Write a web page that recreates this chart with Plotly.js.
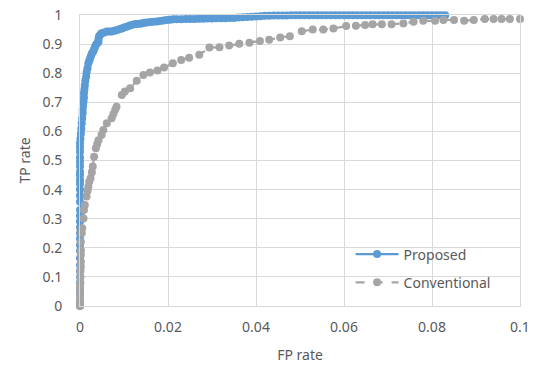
<!DOCTYPE html>
<html>
<head>
<meta charset="utf-8">
<script src="https://cdn.plot.ly/plotly-3.0.1.min.js"></script>
<style>html,body{margin:0;padding:0;background:#fff;}#chart{width:542px;height:369px;}</style>
</head>
<body>
<div id="chart"></div>
<script>
// Proposed (blue) ROC points
const proposedFP = [0,0,0,0,0,0,0,0,0,0,0,0,0,0,0,0,0,0,0,0,0,0,0,0,0,0,0,0,0,0,
  0.0001,0.0002,0.0003,0.0004,0.0005,0.0006,0.0006,0.0007,0.0008,0.0009,0.0009,0.001,0.0011,0.0012,0.0014,0.0015,0.0017,0.0019,0.0021,0.0023,
  0.0025,0.0027,0.003,0.0032,0.0034,0.0036,0.0039,0.0042,0.0042,0.0043,0.0046,0.0049,0.0055,0.0061,0.0066,0.0072,0.0078,0.0083,0.0089,0.0095,
  0.01,0.0106,0.0112,0.0117,0.0123,0.0129,0.0135,0.014,0.0146,0.0152,0.016,0.0167,0.0175,0.0182,0.019,0.0197,0.0205,0.0212,
  0.022,0.023,0.024,0.025,0.026,0.027,0.028,0.029,0.030,0.031,0.032,0.033,0.034,0.035,0.036,0.037,0.038,0.039,0.040,0.041,
  0.042,0.043,0.044,0.045,0.046,0.047,0.048,0.049,0.050,0.051,0.052,0.053,0.054,0.055,0.056,0.057,0.058,0.059,0.060,0.061,
  0.062,0.063,0.064,0.065,0.066,0.067,0.068,0.069,0.070,0.071,0.072,0.073,0.074,0.075,0.076,0.077,0.078,0.079,0.080,0.081,0.082,0.083];
const proposedTP = [0,0.02,0.04,0.06,0.08,0.1,0.12,0.14,0.165,0.19,0.21,0.23,0.25,0.27,0.29,0.31,0.33,0.358,0.38,0.4,0.42,0.433,0.45,0.461,0.48,0.496,0.51,0.53,0.545,0.559,
  0.575,0.593,0.61,0.628,0.645,0.662,0.674,0.688,0.702,0.716,0.731,0.745,0.759,0.774,0.788,0.803,0.817,0.834,0.843,0.851,
  0.86,0.868,0.875,0.882,0.89,0.897,0.903,0.908,0.918,0.926,0.932,0.937,0.94,0.943,0.943,0.943,0.946,0.948,0.951,0.954,
  0.957,0.96,0.963,0.966,0.968,0.969,0.97,0.971,0.973,0.974,0.976,0.977,0.978,0.979,0.981,0.983,0.984,0.985,
  0.985,0.985,0.986,0.986,0.986,0.987,0.987,0.988,0.988,0.989,0.989,0.989,0.99,0.99,0.991,0.992,0.993,0.994,0.995,0.996,
  0.997,0.997,0.998,0.998,0.998,0.998,0.999,0.999,0.999,0.999,0.999,0.999,0.999,0.999,0.999,0.999,0.999,0.999,0.999,0.999,
  0.999,0.999,0.999,0.999,0.999,0.999,0.999,0.999,0.999,0.999,0.999,0.999,0.999,0.999,0.999,0.999,0.999,0.999,0.999,0.999,0.999,0.999];

// Conventional (gray) ROC points
const conventionalFP = [0,0,0,0,0,0,0.0001,0.0001,0.0001,0.0002,0.0002,0.0002,0.0002,0.0002,0.0004,0.0005,0.0008,0.0009,0.0011,0.0015,
  0.0017,0.0019,0.0021,0.0024,0.0027,0.0029,0.0032,0.0036,0.0039,0.0042,0.0049,0.0053,0.0061,0.0072,0.0076,0.008,0.0083,0.0095,0.0102,0.0114,
  0.0129,0.0144,0.0159,0.0176,0.0191,0.0211,0.023,0.0248,0.0271,0.0294,0.0317,0.0339,0.0362,0.0385,0.0409,0.043,0.0455,0.0477,0.0504,0.0529,
  0.0553,0.0576,0.0605,0.0627,0.0648,0.0665,0.0686,0.0708,0.0735,0.0758,0.078,0.0807,0.0826,0.085,0.0873,0.0895,0.092,0.094,0.0958,0.0977,0.1];
const conventionalTP = [0,0.01,0.02,0.035,0.05,0.065,0.08,0.1,0.12,0.135,0.152,0.175,0.192,0.221,0.25,0.267,0.301,0.33,0.347,0.376,
  0.395,0.41,0.427,0.439,0.46,0.479,0.513,0.542,0.557,0.57,0.588,0.605,0.628,0.645,0.66,0.674,0.685,0.725,0.737,0.748,
  0.774,0.794,0.802,0.809,0.82,0.834,0.845,0.853,0.863,0.888,0.889,0.895,0.901,0.905,0.911,0.915,0.923,0.927,0.944,0.95,
  0.95,0.954,0.962,0.963,0.966,0.968,0.968,0.968,0.971,0.977,0.98,0.98,0.983,0.983,0.98,0.983,0.986,0.986,0.986,0.986,0.986];

const xTickVals = [0,0.02,0.04,0.06,0.08,0.1];
const xTickText = ['0','0.02','0.04','0.06','0.08','0.1'];
const yTickVals = [0,0.1,0.2,0.3,0.4,0.5,0.6,0.7,0.8,0.9,1];
const yTickText = ['0','0.1','0.2','0.3','0.4','0.5','0.6','0.7','0.8','0.9','1'];

const FONT = 'Noto Sans, Open Sans, sans-serif';
const TXT = '#595959';
const GRID = '#d9d9d9';

const traces = [
  {
    x: proposedFP, y: proposedTP, name: 'Proposed', type: 'scatter', mode: 'lines+markers',
    line: {color: '#5B9BD5', width: 2.25},
    marker: {color: '#5B9BD5', size: 8},
    cliponaxis: false, legendgroup: 'a'
  },
  {
    x: conventionalFP, y: conventionalTP, name: 'Conventional', type: 'scatter', mode: 'lines+markers',
    line: {color: '#A5A5A5', width: 2.25, dash: 'dash'},
    marker: {color: '#A5A5A5', size: 8},
    cliponaxis: false, legendgroup: 'b'
  }
];

const layout = {
  width: 542, height: 369,
  margin: {l: 80, r: 22, t: 15, b: 63},
  paper_bgcolor: '#ffffff', plot_bgcolor: '#ffffff',
  font: {family: FONT, size: 14, color: TXT},
  showlegend: true,
  legend: {
    x: 0.615, y: 0.232, xanchor: 'left', yanchor: 'top',
    bgcolor: 'rgba(0,0,0,0)', borderwidth: 0,
    font: {family: FONT, size: 14, color: TXT},
    tracegroupgap: 7, traceorder: 'grouped', itemwidth: 43
  },
  xaxis: {
    range: [0, 0.1], tickvals: xTickVals, ticktext: xTickText,
    showgrid: true, gridcolor: GRID, gridwidth: 1,
    zeroline: false, showline: true, linecolor: GRID, linewidth: 1, mirror: true,
    ticks: '', ticklabelstandoff: 8,
    tickfont: {family: FONT, size: 14, color: TXT},
    title: {text: 'FP rate', font: {family: FONT, size: 14, color: TXT}, standoff: 15}
  },
  yaxis: {
    range: [0, 1], tickvals: yTickVals, ticktext: yTickText,
    showgrid: true, gridcolor: GRID, gridwidth: 1,
    zeroline: false, showline: true, linecolor: GRID, linewidth: 1, mirror: true,
    ticks: '', ticklabelstandoff: 14,
    tickfont: {family: FONT, size: 14, color: TXT},
    title: {text: 'TP rate', font: {family: FONT, size: 14, color: TXT}, standoff: 8}
  }
};

Plotly.newPlot('chart', traces, layout, {displayModeBar: false, staticPlot: true});
</script>
</body>
</html>
